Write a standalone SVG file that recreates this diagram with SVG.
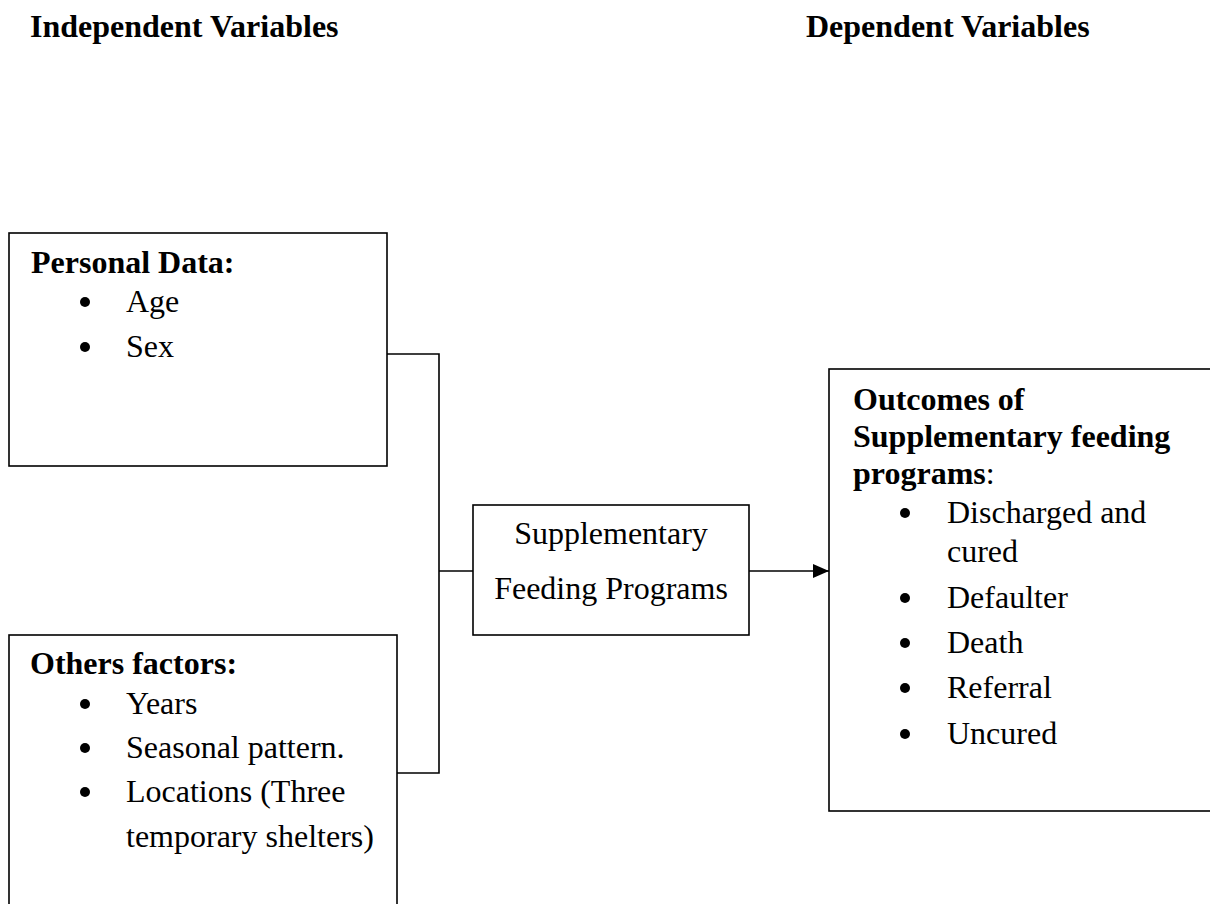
<svg xmlns="http://www.w3.org/2000/svg" width="1210" height="904" viewBox="0 0 1210 904">
<defs>
<style>
.box{fill:#fff;stroke:#000;stroke-width:1.6}
.ln{fill:none;stroke:#000;stroke-width:1.6}
.t{font-family:"Liberation Serif","Times New Roman",serif;font-size:32px;fill:#000}
.b{font-weight:bold}
.dot{fill:#000}
</style>
<marker id="arr" viewBox="0 0 10 10" refX="10" refY="5" markerWidth="8" markerHeight="8" markerUnits="userSpaceOnUse" orient="auto">
<path d="M0,0 L10,5 L0,10 Z" fill="#000"/>
</marker>
<marker id="arrow" viewBox="0 0 16 14" refX="16" refY="7" markerWidth="16" markerHeight="14" markerUnits="userSpaceOnUse" orient="auto">
<path d="M0,0 L16,7 L0,14 Z" fill="#000"/>
</marker>
</defs>
<rect width="1210" height="904" fill="#fff"/>
<g id="headers">
<text class="t b" x="30" y="37">Independent Variables</text>
<text class="t b" x="806" y="37">Dependent Variables</text>
</g>
<g id="connectors">
<polyline class="ln" points="387,354 439,354 439,773 397,773"/>
<line class="ln" x1="439" y1="571" x2="473" y2="571"/>
<line class="ln" x1="749" y1="571" x2="829" y2="571" stroke-width="2" marker-end="url(#arrow)"/>
</g>
<g id="personal-data">
<rect class="box" x="9" y="233" width="378" height="233"/>
<text class="t b" x="31" y="273">Personal Data:</text>
<circle class="dot" cx="85" cy="302" r="5"/>
<text class="t" x="126" y="312">Age</text>
<circle class="dot" cx="85" cy="347" r="5"/>
<text class="t" x="126" y="357">Sex</text>
</g>
<g id="other-factors">
<rect class="box" x="9" y="635" width="388" height="290"/>
<text class="t b" x="30" y="674">Others factors:</text>
<circle class="dot" cx="85" cy="704" r="5"/>
<text class="t" x="126" y="714">Years</text>
<circle class="dot" cx="85" cy="748" r="5"/>
<text class="t" x="126" y="758">Seasonal pattern.</text>
<circle class="dot" cx="85" cy="792" r="5"/>
<text class="t" x="126" y="802">Locations (Three</text>
<text class="t" x="126" y="847">temporary shelters)</text>
</g>
<g id="sfp">
<rect class="box" x="473" y="505" width="276" height="130"/>
<text class="t" x="611" y="544" text-anchor="middle">Supplementary</text>
<text class="t" x="611" y="599" text-anchor="middle">Feeding Programs</text>
</g>
<g id="outcomes">
<rect class="box" x="829" y="369" width="400" height="442"/>
<text class="t b" x="853" y="410">Outcomes of</text>
<text class="t b" x="853" y="447">Supplementary feeding</text>
<text class="t" x="853" y="484"><tspan class="b">programs</tspan>:</text>
<circle class="dot" cx="905" cy="513" r="5"/>
<text class="t" x="947" y="523">Discharged and</text>
<text class="t" x="947" y="562">cured</text>
<circle class="dot" cx="905" cy="598" r="5"/>
<text class="t" x="947" y="608">Defaulter</text>
<circle class="dot" cx="905" cy="643" r="5"/>
<text class="t" x="947" y="653">Death</text>
<circle class="dot" cx="905" cy="688" r="5"/>
<text class="t" x="947" y="698">Referral</text>
<circle class="dot" cx="905" cy="734" r="5"/>
<text class="t" x="947" y="744">Uncured</text>
</g>
</svg>
